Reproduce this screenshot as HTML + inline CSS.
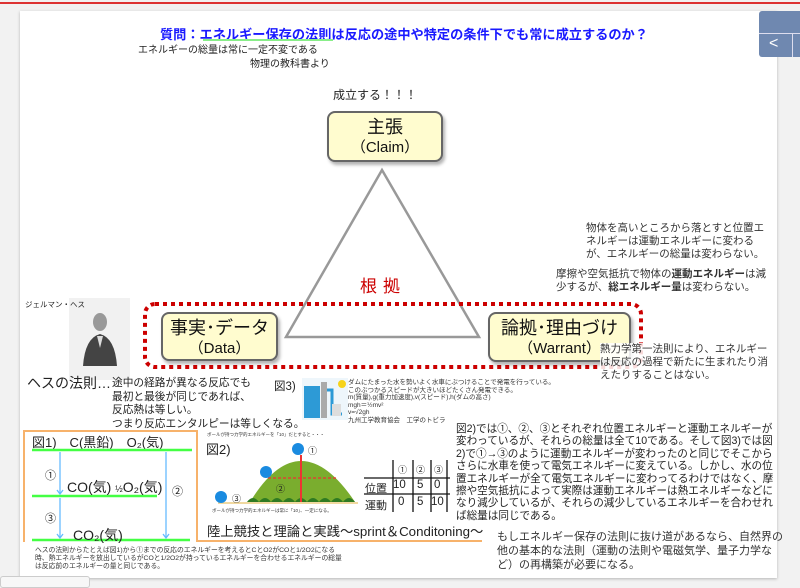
<!DOCTYPE html>
<html><head><meta charset="utf-8"><style>
*{margin:0;padding:0;box-sizing:border-box}
body{width:800px;height:585px;background:#f2f2f2;position:relative;overflow:hidden;font-family:"Liberation Sans","Noto Sans CJK JP",sans-serif;color:#222}
.a{position:absolute;white-space:nowrap}
.card{position:absolute;left:20px;top:11px;width:757px;height:567px;background:#fff;box-shadow:0 1px 3px rgba(0,0,0,.25)}
.box{position:absolute;background:#fffccf;border:2px solid #666;border-radius:8px;box-shadow:2px 3px 3px rgba(0,0,0,.3);text-align:center;color:#111}
.box .t{font-size:18px;line-height:22px;margin-top:3px}
.box .s{font-size:15px;line-height:20px}
.p{font-size:10.5px;line-height:13px;color:#333}
</style></head><body>
<div class="a" style="left:0;top:2px;width:800px;height:2px;background:#d33"></div>
<div class="card"></div>
<div class="a" style="left:759px;top:11px;width:41px;height:46px;background:#6f88b0;border-radius:3px 0 0 3px"></div>
<div class="a" style="left:759px;top:33px;width:41px;height:1px;background:#dde"></div>
<div class="a" style="left:792px;top:34px;width:1px;height:23px;background:#dde"></div>
<div class="a" style="left:769px;top:35px;color:#fff;font-size:16px">&lt;</div>

<div class="a" style="left:160px;top:24px;font-size:13.2px;font-weight:bold;color:#1a1aff">質問：エネルギー保存の法則は反応の途中や特定の条件下でも常に成立するのか？</div>
<div class="a" style="left:203px;top:39px;width:130px;height:2px;background:#8e8"></div>
<div class="a" style="left:138px;top:41px;font-size:10px">エネルギーの総量は常に一定不変である</div>
<div class="a" style="left:250px;top:55px;font-size:10px">物理の教科書より</div>
<div class="a" style="left:333px;top:86px;font-size:12px">成立する！！！</div>

<svg class="a" style="left:0;top:0" width="800" height="585">
<polygon points="382,170 286,337 479,337" fill="none" stroke="#999" stroke-width="2.5"/>
<rect x="145" y="304" width="496" height="63" rx="10" fill="none" stroke="#c00" stroke-width="4" stroke-dasharray="4,4"/>
</svg>
<div class="box" style="left:327px;top:111px;width:116px;height:51px"><div class="t">主張</div><div class="s">（Claim）</div></div>
<div class="a" style="left:360px;top:272px;font-size:17px;color:#c00;letter-spacing:6px">根拠</div>
<div class="box" style="left:161px;top:312px;width:117px;height:49px"><div class="t">事実･データ</div><div class="s">（Data）</div></div>
<div class="box" style="left:488px;top:312px;width:143px;height:50px"><div class="t">論拠･理由づけ</div><div class="s">（Warrant）</div></div>

<div class="a p" style="left:586px;top:222px">物体を高いところから落とすと位置エ<br>ネルギーは運動エネルギーに変わる<br>が、エネルギーの総量は変わらない。</div>
<div class="a p" style="left:556px;top:268px">摩擦や空気抵抗で物体の<b>運動エネルギー</b>は減<br>少するが、<b>総エネルギー量</b>は変わらない。</div>
<div class="a p" style="left:600px;top:343px;background:rgba(255,255,255,.85)">熱力学第一法則により、エネルギー<br>は反応の過程で新たに生まれたり消<br>えたりすることはない。</div>

<div class="a" style="left:69px;top:298px;width:61px;height:82px;background:#f1f1f1"></div>
<svg class="a" style="left:69px;top:298px" width="61" height="82"><ellipse cx="31" cy="24" rx="7" ry="9" fill="#999"/><path d="M14,68 Q16,40 31,36 Q46,40 48,68 Z" fill="#444"/><path d="M28,38 L31,50 L34,38Z" fill="#ddd"/></svg>
<div class="a" style="left:25px;top:299px;font-size:7.5px">ジェルマン・ヘス</div>

<div class="a" style="left:27px;top:373px;font-size:14px">ヘスの法則…</div>
<div class="a" style="left:112px;top:377px;font-size:10.7px;line-height:13.5px">途中の経路が異なる反応でも<br>最初と最後が同じであれば、<br>反応熱は等しい。<br>つまり反応エンタルピーは等しくなる。</div>

<div class="a" style="left:274px;top:378px;font-size:11.5px">図3)</div>
<svg class="a" style="left:302px;top:378px" width="46" height="42"><rect width="46" height="42" fill="#eef6fb"/><rect x="2" y="8" width="16" height="32" fill="#2d9ad6"/><rect x="19" y="4" width="6" height="36" fill="#aaa"/><path d="M25,12 H30 V36 H40" stroke="#2d9ad6" stroke-width="3" fill="none"/><rect x="30" y="26" width="9" height="12" fill="#ddd"/><circle cx="40" cy="6" r="4" fill="#f7d31a"/></svg>
<div class="a" style="left:348px;top:379px;font-size:6.5px;line-height:7.5px;color:#333">ダムにたまった水を勢いよく水車にぶつけることで発電を行っている。<br>このぶつかるスピードが大きいほどたくさん発電できる。<br>m(質量),g(重力加速度),v(スピード),h(ダムの高さ)<br>mgh＝½mv²<br>v=√2gh<br>九州工学教育協会　工学のトビラ</div>

<div class="a" style="left:23px;top:430px;width:175px;height:112px;border:2px solid #f7b26b;border-bottom:none"></div>
<div class="a" style="left:197px;top:540px;width:285px;height:2px;background:#f7b26b"></div>
<div class="a" style="left:32px;top:432px;font-size:13px">図1)　C(黒鉛)　O₂(気)</div>
<svg class="a" style="left:0;top:0" width="800" height="585">
<g stroke="#4f4" stroke-width="2.5"><line x1="32" y1="450" x2="192" y2="450"/><line x1="32" y1="496" x2="157" y2="496"/><line x1="32" y1="540" x2="190" y2="540"/></g>
<g stroke="#6bf" stroke-width="1.3" fill="none"><line x1="60" y1="452" x2="60" y2="494"/><line x1="60" y1="498" x2="60" y2="538"/><line x1="166" y1="452" x2="166" y2="538"/><path d="M57,490 L60,494 L63,490 M57,534 L60,538 L63,534 M163,534 L166,538 L169,534"/></g>
<path d="M250,502 Q300,420 355,502 Z" fill="#7aad2e"/>
<path d="M247,502 q6,-8 12,0 q6,-8 12,0 q6,-8 12,0 q6,-8 12,0 q6,-8 12,0 q6,-8 12,0 q6,-8 12,0 q6,-8 12,0 q6,-8 12,0 z" fill="#2f7a22"/>
<line x1="218" y1="503" x2="358" y2="503" stroke="#f1d9a0" stroke-width="2"/>
<line x1="301" y1="455" x2="301" y2="502" stroke="#e33" stroke-width="2"/>
<line x1="268" y1="478" x2="336" y2="478" stroke="#e33" stroke-width="1.2" stroke-dasharray="3,2"/>
<circle cx="298" cy="449" r="6" fill="#1a8be0"/><circle cx="266" cy="472" r="6" fill="#1a8be0"/><circle cx="221" cy="497" r="6" fill="#1a8be0"/>
<g stroke="#111" stroke-width="1.3"><line x1="364" y1="478" x2="450" y2="478"/><line x1="364" y1="494" x2="450" y2="494"/><line x1="393" y1="460" x2="393" y2="512"/><line x1="413" y1="460" x2="413" y2="512"/><line x1="431" y1="460" x2="431" y2="512"/><line x1="447" y1="460" x2="447" y2="512"/></g>
</svg>
<div class="a" style="left:45px;top:467px;font-size:11px">①</div>
<div class="a" style="left:45px;top:510px;font-size:11px">③</div>
<div class="a" style="left:172px;top:483px;font-size:11px">②</div>
<div class="a" style="left:67px;top:477px;font-size:14px">CO(気) <span style="font-size:9px">½</span>O₂(気)</div>
<div class="a" style="left:73px;top:525px;font-size:14px">CO₂(気)</div>
<div class="a" style="left:35px;top:547px;font-size:6.8px;line-height:8px;color:#333">ヘスの法則からたとえば図1)から①までの反応のエネルギーを考えるとCとO2がCOと1/2O2になる<br>時、熱エネルギーを放出しているがCOと1/2O2が持っているエネルギーを合わせるエネルギーの総量<br>は反応前のエネルギーの量と同じである。</div>

<div class="a" style="left:206px;top:439px;font-size:13px">図2)</div>
<div class="a" style="left:207px;top:432px;font-size:4.5px;color:#333">ボールが持つ力学的エネルギーを「10」だとすると・・・</div>
<div class="a" style="left:308px;top:444px;font-size:9px">①</div>
<div class="a" style="left:276px;top:482px;font-size:9px">②</div>
<div class="a" style="left:232px;top:492px;font-size:9px">③</div>
<div class="a" style="left:212px;top:508px;font-size:4.5px;color:#333">ボールが持つ力学的エネルギーは常に「10」、一定になる。</div>
<div class="a" style="left:207px;top:521px;font-size:13.3px">陸上競技と理論と実践〜sprint＆Conditoning〜</div>

<div class="a" style="left:398px;top:463px;font-size:9px">①</div>
<div class="a" style="left:416px;top:463px;font-size:9px">②</div>
<div class="a" style="left:434px;top:463px;font-size:9px">③</div>
<div class="a" style="left:365px;top:480px;font-size:11px">位置</div>
<div class="a" style="left:365px;top:497px;font-size:11px">運動</div>
<div class="a" style="left:393px;top:479px;font-size:11.5px">10</div><div class="a" style="left:417px;top:479px;font-size:11.5px">5</div><div class="a" style="left:434px;top:479px;font-size:11.5px">0</div>
<div class="a" style="left:398px;top:496px;font-size:11.5px">0</div><div class="a" style="left:417px;top:496px;font-size:11.5px">5</div><div class="a" style="left:431px;top:496px;font-size:11.5px">10</div>

<div class="a" style="left:456px;top:423px;font-size:10.6px;line-height:12.4px">図2)では①、②、③とそれぞれ位置エネルギーと運動エネルギーが<br>変わっているが、それらの総量は全て10である。そして図3)では図<br>2)で①→③のように運動エネルギーが変わったのと同じでそこから<br>さらに水車を使って電気エネルギーに変えている。しかし、水の位<br>置エネルギーが全て電気エネルギーに変わってるわけではなく、摩<br>擦や空気抵抗によって実際は運動エネルギーは熱エネルギーなどに<br>なり減少しているが、それらの減少しているエネルギーを合わせれ<br>ば総量は同じである。</div>
<div class="a" style="left:497px;top:530px;font-size:11px;line-height:14px;color:#333">もしエネルギー保存の法則に抜け道があるなら、自然界の<br>他の基本的な法則（運動の法則や電磁気学、量子力学な<br>ど）の再構築が必要になる。</div>

<div class="a" style="left:0;top:576px;width:90px;height:12px;border:1px solid #ccc;border-radius:3px;background:#f7f7f7"></div>
</body></html>
